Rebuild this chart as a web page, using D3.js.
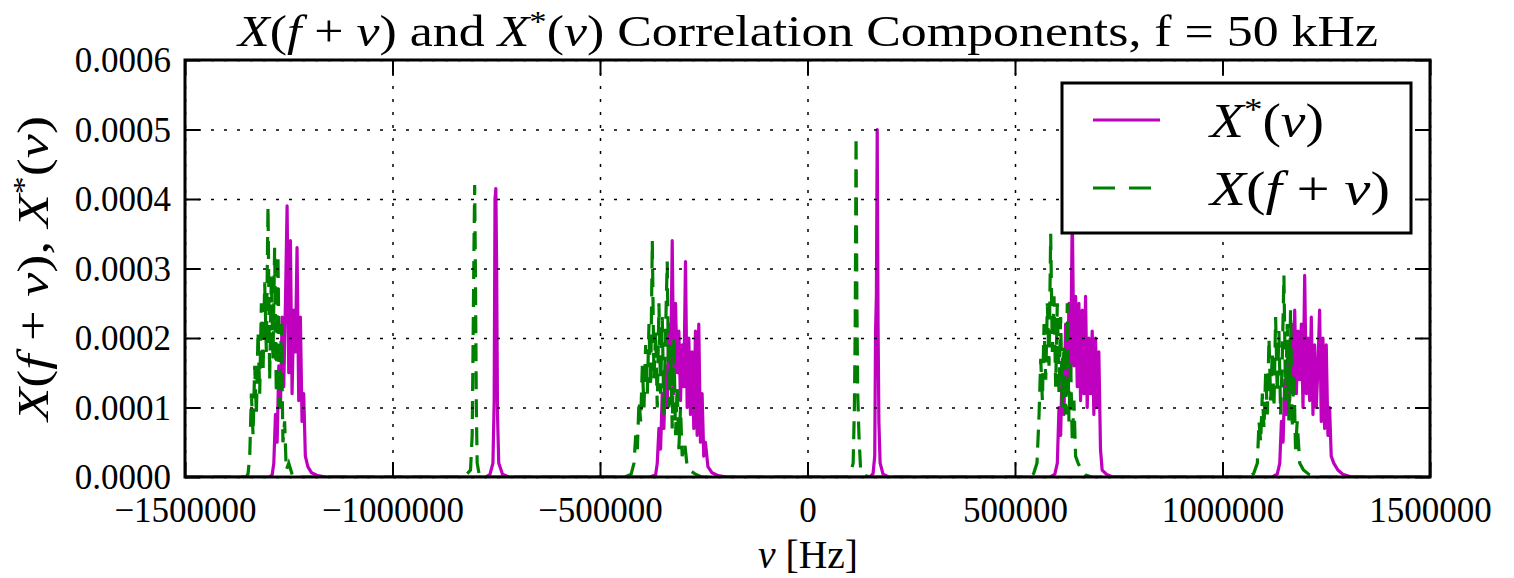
<!DOCTYPE html>
<html>
<head>
<meta charset="utf-8">
<script src="https://cdn.jsdelivr.net/npm/d3@7"></script>
<style>
    body { margin: 0; background: #fff; }
    text { font-family: "Liberation Serif", "Times New Roman", serif; fill: #000; }
    .math { font-style: italic; }
</style>
</head>
<body>
<script>
// tick values of both axes
var xTicks = [-1500000, -1000000, -500000, 0, 500000, 1000000, 1500000];
var yTicks = [0, 0.0001, 0.0002, 0.0003, 0.0004, 0.0005, 0.0006];

// X*(nu) samples [nu in Hz, amplitude]
var conjBand1 = [[-1296000, 0], [-1290000, 0.000003], [-1286000, 0.00002], [-1282000, 0.00009], [-1278000, 0.00005],
    [-1274000, 0.00016], [-1270000, 0.00010], [-1266000, 0.00023], [-1262000, 0.00013], [-1258000, 0.00025],
    [-1254000, 0.00039], [-1250000, 0.00015], [-1246000, 0.00034], [-1242000, 0.00012], [-1238000, 0.00024],
    [-1234000, 0.00018], [-1230000, 0.00033], [-1226000, 0.00011], [-1222000, 0.00023], [-1218000, 0.00008],
    [-1214000, 0.00012], [-1210000, 0.00003], [-1204000, 0.000015], [-1195000, 0.000006], [-1180000, 0.000002],
    [-1160000, 0]];
var conjBand2 = [[-775000, 0], [-765000, 0.000004], [-758000, 0.00002], [-755000, 0.00011], [-753000, 0.00040],
    [-751000, 0.000415], [-749000, 0.00030], [-747000, 0.00009], [-744000, 0.00002], [-735000, 0.000004],
    [-720000, 0]];
var conjBand3 = [[-380000, 0], [-366000, 0.000003], [-362000, 0.00002], [-358000, 0.00007], [-354000, 0.00004],
    [-350000, 0.00012], [-346000, 0.00007], [-342000, 0.00016], [-338000, 0.00010], [-334000, 0.00022],
    [-330000, 0.00013], [-326000, 0.00034], [-322000, 0.00012], [-318000, 0.00025], [-314000, 0.00015],
    [-310000, 0.00021], [-306000, 0.00011], [-302000, 0.00019], [-298000, 0.00013], [-294000, 0.00031],
    [-290000, 0.00010], [-286000, 0.00020], [-282000, 0.00009], [-278000, 0.00018], [-274000, 0.00007],
    [-270000, 0.00021], [-266000, 0.00006], [-262000, 0.00022], [-258000, 0.00005], [-254000, 0.00012],
    [-250000, 0.00003], [-246000, 0.00005], [-240000, 0.000015], [-230000, 0.000006], [-215000, 0.000002],
    [-195000, 0]];
var conjBand4 = [[150000, 0], [158000, 0.000005], [162000, 0.00003], [164000, 0.00021], [166000, 0.00026],
    [168000, 0.0005], [170000, 0.00022], [172000, 0.00008], [175000, 0.00002], [182000, 0.000004], [195000, 0]];
var conjBand5 = [[585000, 0], [596000, 0.000004], [602000, 0.00002], [606000, 0.00010], [610000, 0.00006],
    [614000, 0.00017], [618000, 0.00009], [622000, 0.00022], [626000, 0.00012], [630000, 0.00025],
    [634000, 0.00015], [638000, 0.00038], [642000, 0.00016], [646000, 0.00026], [650000, 0.00013],
    [654000, 0.00025], [658000, 0.00011], [662000, 0.00024], [666000, 0.00012], [670000, 0.00026],
    [674000, 0.00010], [678000, 0.00020], [682000, 0.00012], [686000, 0.00021], [690000, 0.00009],
    [694000, 0.00020], [698000, 0.00010], [702000, 0.00018], [706000, 0.00004], [710000, 0.00001],
    [720000, 0.000004], [735000, 0]];
var conjBand6 = [[1120000, 0], [1132000, 0.000004], [1138000, 0.00002], [1142000, 0.00008], [1146000, 0.00005],
    [1150000, 0.00014], [1154000, 0.00009], [1158000, 0.00019], [1162000, 0.00011], [1166000, 0.00022],
    [1170000, 0.00013], [1174000, 0.00024], [1178000, 0.00012], [1182000, 0.00021], [1186000, 0.00014],
    [1190000, 0.00022], [1194000, 0.00010], [1198000, 0.00029], [1202000, 0.00012], [1206000, 0.00020],
    [1210000, 0.00011], [1214000, 0.00023], [1218000, 0.00009], [1222000, 0.00019], [1226000, 0.00010],
    [1230000, 0.00016], [1234000, 0.00024], [1238000, 0.00008], [1242000, 0.00020], [1246000, 0.00007],
    [1250000, 0.00019], [1254000, 0.00006], [1258000, 0.00010], [1262000, 0.00003], [1268000, 0.00002],
    [1278000, 0.00001], [1290000, 0.000004], [1310000, 0]];

// X(f + nu) samples [nu in Hz, amplitude]
var shiftBand1 = [[-1352000, 0], [-1348000, 0.000005], [-1344000, 0.00003], [-1340000, 0.00012], [-1336000, 0.00006],
    [-1332000, 0.00016], [-1328000, 0.00009], [-1324000, 0.00021], [-1320000, 0.00012], [-1316000, 0.00025],
    [-1312000, 0.00015], [-1308000, 0.00028], [-1304000, 0.00018], [-1300000, 0.00039], [-1296000, 0.00014],
    [-1292000, 0.00029], [-1288000, 0.00017], [-1284000, 0.00033], [-1280000, 0.00012], [-1276000, 0.00032],
    [-1272000, 0.00010], [-1268000, 0.00022], [-1264000, 0.00005], [-1260000, 0.00008], [-1256000, 0.00001],
    [-1250000, 0.00002], [-1240000, 0]];
var shiftBand2 = [[-830000, 0], [-820000, 0.000005], [-812000, 0.00001], [-808000, 0.00006], [-806000, 0.00018],
    [-804000, 0.00031], [-802000, 0.00042], [-800000, 0.00028], [-798000, 0.00010], [-796000, 0.00002],
    [-790000, 0]];
var shiftBand3 = [[-440000, 0], [-425000, 0.000004], [-418000, 0.00002], [-414000, 0.00006], [-410000, 0.00004],
    [-406000, 0.00011], [-402000, 0.00008], [-398000, 0.00016], [-394000, 0.00010], [-390000, 0.00019],
    [-386000, 0.00012], [-382000, 0.00022], [-378000, 0.00013], [-374000, 0.00034], [-370000, 0.00014],
    [-366000, 0.00021], [-362000, 0.00010], [-358000, 0.00025], [-354000, 0.00012], [-350000, 0.00023],
    [-346000, 0.00009], [-342000, 0.00021], [-338000, 0.00031], [-334000, 0.00010], [-330000, 0.00019],
    [-326000, 0.00007], [-322000, 0.00020], [-318000, 0.00006], [-314000, 0.00013], [-310000, 0.00004],
    [-306000, 0.00010], [-302000, 0.00003], [-296000, 0.00005], [-290000, 0.000015], [-284000, 0.00001],
    [-270000, 0.000004], [-255000, 0]];
var shiftBand4 = [[95000, 0], [104000, 0.000006], [110000, 0.00002], [113000, 0.00010], [115000, 0.00022],
    [117000, 0.00049], [119000, 0.00025], [121000, 0.00012], [124000, 0.00006], [128000, 0.00001],
    [135000, 0.000003], [150000, 0]];
var shiftBand5 = [[530000, 0], [545000, 0.000005], [553000, 0.00002], [558000, 0.00009], [562000, 0.00017],
    [566000, 0.00011], [570000, 0.00022], [574000, 0.00014], [578000, 0.00025], [582000, 0.00016],
    [586000, 0.00035], [590000, 0.00018], [594000, 0.00026], [598000, 0.00013], [602000, 0.00025],
    [606000, 0.00012], [610000, 0.00023], [614000, 0.00010], [618000, 0.00019], [622000, 0.00009],
    [626000, 0.00025], [630000, 0.00008], [634000, 0.00017], [638000, 0.00005], [642000, 0.00011],
    [646000, 0.00003], [652000, 0.00002], [660000, 0.00001], [670000, 0.000003], [685000, 0]];
var shiftBand6 = [[1060000, 0], [1075000, 0.000005], [1084000, 0.00002], [1088000, 0.00008], [1092000, 0.00005],
    [1096000, 0.00012], [1100000, 0.00007], [1104000, 0.00015], [1108000, 0.00009], [1112000, 0.00020],
    [1116000, 0.00011], [1120000, 0.00018], [1124000, 0.00010], [1128000, 0.00023], [1132000, 0.00012],
    [1136000, 0.00021], [1140000, 0.00009], [1144000, 0.00017], [1148000, 0.00029], [1152000, 0.00011],
    [1156000, 0.00022], [1160000, 0.00008], [1164000, 0.00024], [1168000, 0.00007], [1172000, 0.00015],
    [1176000, 0.00004], [1180000, 0.00008], [1186000, 0.00002], [1195000, 0.00001], [1210000, 0.000003],
    [1225000, 0]];

var conjSeries = [[-1500000, 0]].concat(conjBand1, conjBand2, conjBand3, conjBand4, conjBand5, conjBand6, [[1500000, 0]]);
var shiftSeries = [[-1500000, 0]].concat(shiftBand1, shiftBand2, shiftBand3, shiftBand4, shiftBand5, shiftBand6, [[1500000, 0]]);

var width = 1514;
var height = 578;
var padding = {top: 60, right: 84, bottom: 101, left: 185}; // plot area 185..1430, 60..477

var plotW = width - padding.left - padding.right;
var plotH = height - padding.top - padding.bottom;

var svg = d3.select("body")
            .append("svg")
            .attr("width", width)
            .attr("height", height);

var xScale = d3.scaleLinear()
                .domain([-1500000, 1500000])
                .range([0, plotW]);

var yScale = d3.scaleLinear()
                .domain([0, 0.0006])
                .range([plotH, 0]);

var plot = svg.append("g")
                .attr("transform", "translate(" + padding.left + "," + padding.top + ")");

plot.append("clipPath")
    .attr("id", "clip")
    .append("rect")
    .attr("width", plotW)
    .attr("height", plotH);

// series: magenta first, green dashed on top
var line = d3.line()
            .x(function(d) { return xScale(d[0]); })
            .y(function(d) { return yScale(d[1]); });

plot.append("path")
    .datum(conjSeries)
    .attr("clip-path", "url(#clip)")
    .attr("fill", "none")
    .attr("stroke", "#bf00bf")
    .attr("stroke-width", 3.2)
    .attr("stroke-linejoin", "round")
    .attr("d", line);

plot.append("path")
    .datum(shiftSeries)
    .attr("clip-path", "url(#clip)")
    .attr("fill", "none")
    .attr("stroke", "#008000")
    .attr("stroke-width", 3.2)
    .attr("stroke-dasharray", "18,10")
    .attr("d", line);

// dotted grid (drawn over the lines like the original)
plot.append("g")
    .attr("class", "grid")
    .call(d3.axisBottom(xScale).tickValues(xTicks).tickSize(plotH).tickFormat(""))
    .call(function(g) { g.select(".domain").remove(); });

plot.append("g")
    .attr("class", "grid")
    .call(d3.axisLeft(yScale).tickValues(yTicks).tickSize(-plotW).tickFormat(""))
    .call(function(g) { g.select(".domain").remove(); });

plot.selectAll(".grid line")
    .attr("stroke", "#000")
    .attr("stroke-width", 1.5)
    .attr("stroke-dasharray", "3,10");

// inward ticks on all four sides
var tickLen = 15;
var xAxis = plot.append("g")
                .attr("transform", "translate(0," + plotH + ")")
                .call(d3.axisBottom(xScale).tickValues(xTicks).tickSize(-tickLen).tickPadding(24)
                        .tickFormat(d3.format("d")));
var yAxis = plot.append("g")
                .call(d3.axisLeft(yScale).tickValues(yTicks).tickSize(-tickLen).tickPadding(14)
                        .tickFormat(d3.format(".4f")));
var topAxis = plot.append("g")
                .call(d3.axisTop(xScale).tickValues(xTicks).tickSize(-tickLen).tickFormat(""));
var rightAxis = plot.append("g")
                .attr("transform", "translate(" + plotW + ",0)")
                .call(d3.axisRight(yScale).tickValues(yTicks).tickSize(-tickLen).tickFormat(""));

plot.selectAll(".domain").remove();
plot.selectAll(".tick line").filter(function() { return !this.parentNode.parentNode.classList.contains("grid"); })
    .attr("stroke", "#000")
    .attr("stroke-width", 2);

xAxis.selectAll("text").attr("font-size", 35).attr("font-family", "Liberation Serif").attr("dy", "0.6em");
yAxis.selectAll("text").attr("font-size", 35).attr("font-family", "Liberation Serif").attr("dy", "0.34em");

// frame
plot.append("rect")
    .attr("width", plotW)
    .attr("height", plotH)
    .attr("fill", "none")
    .attr("stroke", "#000")
    .attr("stroke-width", 3);

// title
var title = svg.append("text")
                .attr("x", 808)
                .attr("y", 46)
                .attr("text-anchor", "middle")
                .attr("font-size", 45)
                .attr("textLength", 1140)
                .attr("lengthAdjust", "spacingAndGlyphs");
title.append("tspan").attr("class", "math").text("X");
title.append("tspan").text("(");
title.append("tspan").attr("class", "math").text("f");
title.append("tspan").text(" + ");
title.append("tspan").attr("class", "math").text("ν");
title.append("tspan").text(") and ");
title.append("tspan").attr("class", "math").text("X");
title.append("tspan").attr("dy", -15).attr("font-size", 30).text("*");
title.append("tspan").attr("dy", 15).text("(");
title.append("tspan").attr("class", "math").text("ν");
title.append("tspan").text(") Correlation Components, f = 50 kHz");

// x label
var xLabel = svg.append("text")
                .attr("x", 808)
                .attr("y", 568)
                .attr("text-anchor", "middle")
                .attr("font-size", 40)
                .attr("textLength", 100)
                .attr("lengthAdjust", "spacingAndGlyphs");
xLabel.append("tspan").attr("class", "math").text("ν");
xLabel.append("tspan").text(" [Hz]");

// y label
var yLabel = svg.append("text")
                .attr("transform", "translate(48," + (padding.top + plotH / 2) + ") rotate(-90)")
                .attr("text-anchor", "middle")
                .attr("font-size", 44)
                .attr("textLength", 305)
                .attr("lengthAdjust", "spacingAndGlyphs");
yLabel.append("tspan").attr("class", "math").text("X");
yLabel.append("tspan").text("(");
yLabel.append("tspan").attr("class", "math").text("f");
yLabel.append("tspan").text(" + ");
yLabel.append("tspan").attr("class", "math").text("ν");
yLabel.append("tspan").text("), ");
yLabel.append("tspan").attr("class", "math").text("X");
yLabel.append("tspan").attr("dy", -15).attr("font-size", 29).text("*");
yLabel.append("tspan").attr("dy", 15).text("(");
yLabel.append("tspan").attr("class", "math").text("ν");
yLabel.append("tspan").text(")");

// legend
var legend = svg.append("g")
                .attr("transform", "translate(1062,83)");
legend.append("rect")
    .attr("width", 349)
    .attr("height", 150)
    .attr("fill", "#fff")
    .attr("stroke", "#000")
    .attr("stroke-width", 3);

var legendItems = [
    {y: 37, color: "#bf00bf", dash: null},
    {y: 105, color: "#008000", dash: "22,14"}
];
legend.selectAll("line.key")
    .data(legendItems)
    .enter()
    .append("line")
    .attr("class", "key")
    .attr("x1", 31)
    .attr("x2", 98)
    .attr("y1", function(d) { return d.y; })
    .attr("y2", function(d) { return d.y; })
    .attr("stroke", function(d) { return d.color; })
    .attr("stroke-width", 3)
    .attr("stroke-dasharray", function(d) { return d.dash; });

var l1 = legend.append("text").attr("x", 148).attr("y", 54).attr("font-size", 48)
                .attr("textLength", 114).attr("lengthAdjust", "spacingAndGlyphs");
l1.append("tspan").attr("class", "math").text("X");
l1.append("tspan").attr("dy", -17).attr("font-size", 32).text("*");
l1.append("tspan").attr("dy", 17).text("(");
l1.append("tspan").attr("class", "math").text("ν");
l1.append("tspan").text(")");

var l2 = legend.append("text").attr("x", 148).attr("y", 122).attr("font-size", 48)
                .attr("textLength", 180).attr("lengthAdjust", "spacingAndGlyphs");
l2.append("tspan").attr("class", "math").text("X");
l2.append("tspan").text("(");
l2.append("tspan").attr("class", "math").text("f");
l2.append("tspan").text(" + ");
l2.append("tspan").attr("class", "math").text("ν");
l2.append("tspan").text(")");
</script>
</body>
</html>
